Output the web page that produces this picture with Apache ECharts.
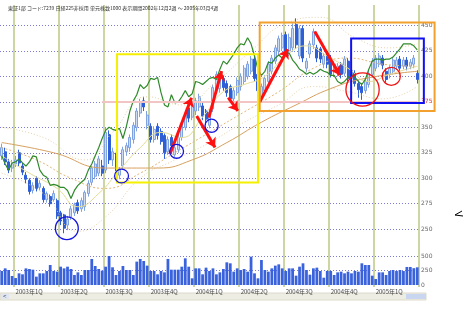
<!DOCTYPE html>
<html>
<head>
<meta charset="utf-8">
<title>7239 週足チャート</title>
<script src="https://cdn.jsdelivr.net/npm/echarts@6/dist/echarts.min.js"></script>
<style>
html, body { margin: 0; padding: 0; background: #fff; }
#chart { width: 466px; height: 312px; }
</style>
</head>
<body>
<div id="chart"></div>
<script>
// 週足 2002年12月2週 ～ 2005年3月4週
var opens  = [322,326,316,310,314,325,312,303,298,288,300,291,290,279,282,279,278,266,264,254,262,266,276,270,272,285,296,302,305,312,308,343,318,322,303,312,326,330,338,350,364,376,352,351,338,351,346,342,326,340,323,328,340,350,369,360,366,370,371,366,352,368,386,388,398,393,390,378,384,390,395,400,405,417,402,380,386,395,405,415,425,428,441,425,428,451,420,447,408,422,431,428,427,412,422,418,405,404,412,403,415,398,403,393,390,386,392,402,408,412,418,405,402,405,410,417,410,416,410,412,403];
var closes = [330,316,308,315,318,315,306,299,287,293,290,295,279,285,275,285,263,258,251,260,270,274,268,278,286,295,310,314,319,305,345,318,326,310,308,328,332,340,352,366,375,370,362,338,348,342,336,325,338,332,330,340,353,364,359,372,376,380,361,358,365,389,402,398,389,384,378,386,396,400,408,412,417,398,386,390,398,412,418,428,437,440,425,438,447,431,447,418,415,432,444,418,417,420,412,402,412,410,402,417,398,406,393,387,384,395,403,415,418,420,411,397,408,416,416,408,416,410,414,418,397];
var lows   = [318,313,305,306,311,312,303,295,284,285,287,288,276,276,272,277,260,254,246,249,259,263,265,267,268,282,293,299,302,302,305,314,312,307,299,309,322,326,334,346,360,366,348,335,335,338,333,319,323,328,320,325,337,347,355,357,362,366,357,352,349,365,383,384,386,380,374,372,381,386,392,397,402,395,380,376,383,392,402,412,421,425,422,420,424,427,417,414,404,418,427,414,413,408,408,399,401,400,398,400,395,394,390,379,377,383,389,399,405,409,407,394,398,402,407,405,407,406,407,408,393];
var highs  = [334,330,319,318,322,328,315,306,300,296,302,298,292,287,284,288,280,268,265,263,273,276,279,281,288,298,312,317,322,318,350,347,330,325,311,331,335,343,355,369,378,380,366,354,351,354,349,344,341,343,333,343,356,367,372,375,379,383,374,368,368,392,405,401,401,396,392,389,399,403,411,415,420,420,405,393,401,415,421,431,440,443,444,442,452,457,450,450,418,435,447,431,429,423,424,421,415,413,414,420,418,409,406,396,393,398,406,418,421,423,421,408,411,419,419,420,419,419,417,421,406];
var volumes = [241,287,259,155,120,201,184,287,276,264,144,201,201,241,345,241,230,316,287,316,276,172,218,172,259,259,449,328,276,247,316,500,305,172,241,328,259,259,172,403,449,414,334,241,241,184,241,218,449,264,264,264,316,460,316,115,287,287,184,299,241,287,184,218,276,391,374,230,287,259,276,230,489,201,115,431,259,230,287,334,356,287,241,287,287,161,316,374,259,178,287,299,241,126,241,241,172,218,230,201,230,201,241,230,374,345,345,161,103,218,218,172,241,259,241,259,241,311,311,290,305];
// 緑の線
var greenLine = [322,314,308,315,316,319,315,312,316,322,321,308,303,301,293,294,293,291,291,288,280,288,293,296,299,308,314,322,330,339,347,350,348,347,349,339,351,366,376,382,392,388,391,398,397,399,384,372,370,382,374,375,380,386,380,383,395,394,392,395,398,399,397,407,415,412,417,422,428,432,431,438,432,420,407,401,405,414,413,418,421,418,422,423,416,412,407,405,402,404,402,404,407,405,404,401,401,395,393,395,399,402,399,395,392,397,407,415,417,417,416,417,417,419,423,427,432,432,432,430,426];
// 移動平均 [週, 値]
var ma13 = [[0,322],[8,305],[16,290],[22,272],[28,285],[34,308],[40,330],[46,345],[52,340],[58,360],[64,385],[70,392],[76,400],[82,420],[88,430],[94,420],[100,408],[106,395],[112,402],[120,410]];
var ma26 = [[0,330],[10,318],[20,300],[30,290],[40,305],[50,325],[60,345],[70,365],[80,385],[90,408],[100,418],[110,412],[120,410]];
var ma52 = [[0,335],[15,325],[30,310],[45,310],[55,318],[65,335],[75,355],[85,372],[95,388],[105,398],[120,405]];
var bandUp = [[0,350],[12,340],[24,318],[32,345],[42,380],[52,372],[62,395],[72,425],[82,452],[92,458],[102,438],[112,428],[120,432]];
var bandDn = [[0,305],[12,285],[22,248],[30,262],[40,300],[50,318],[60,335],[70,355],[80,372],[90,390],[100,385],[110,378],[120,390]];

var quarterIdx = [4,17,30,43,56,69,82,95,108];
var quarterLabels = ['2003年1Q','2003年2Q','2003年3Q','2003年4Q','2004年1Q','2004年2Q','2004年3Q','2004年4Q','2005年1Q'];

// 書き込み（週, 株価）
var boxes = [[33.3,421.7,74.0,295.9],[74.5,452.9,125.0,366.1],[100.9,437.3,121.9,373.9]];
var boxColors = ['#f5f000','#f2a12e','#1010f0'];
var circles = [[18.8,250.9,3.3],[34.6,302.2,2.0],[50.5,326.4,2.0],[60.6,351.5,1.9],[104.2,387.1,4.8],[112.5,400.0,2.6]];
var circleColors = ['#1515e0','#1515e0','#1515e0','#1515e0','#f01010','#f01010'];
var arrows = [[48.6,324.1,54.8,379.1],[56.3,361.2,61.6,330.3],[59.8,359.6,63.5,405.1],[65.4,379.1,68.2,366.1],[74.5,374.9,82.6,426.6],[90.4,444.1,97.6,401.2]];

var weeks = [];
var d0 = new Date(2002, 11, 9);
for (var i = 0; i < opens.length; i++) {
    var d = new Date(d0.getTime() + i * 7 * 86400000);
    weeks.push(d.getFullYear() + '/' + (d.getMonth() + 1) + '/' + d.getDate());
}
var candles = [];
for (i = 0; i < opens.length; i++) {
    candles.push([opens[i], closes[i], lows[i], highs[i]]);
}

function isQuarter(idx) { return quarterIdx.indexOf(idx) >= 0; }

var labelStyle = { fontSize: 6, color: '#666', fontFamily: 'DejaVu Sans' };
var dotted = { color: '#7b7bd8', width: 1, type: [1, 2] };

var chart = echarts.init(document.getElementById('chart'));
var option = {
    animation: false,
    backgroundColor: '#ffffff',
    title: {
        text: '東証1部 コード:7239 日経225非採用 単元株数1000 表示期間2002年12月2週 ～ 2005年03月4週',
        left: 3, top: 1,
        textStyle: { fontSize: 5, fontWeight: 'normal', color: '#333', fontFamily: 'Noto Sans CJK JP' }
    },
    grid: [
        { left: 0, width: 419, top: -1.625, height: 256.25 },
        { left: 0, width: 419, top: 256, height: 29 },
        { left: 0, width: 419, top: 5, height: 282 }
    ],
    xAxis: [
        { type: 'category', gridIndex: 0, data: weeks, show: false },
        { type: 'category', gridIndex: 1, data: weeks, show: false },
        {
            type: 'category', gridIndex: 2, data: weeks,
            axisLine: { show: false }, axisTick: { show: false },
            axisLabel: {
                interval: function (idx) { return isQuarter(idx); },
                formatter: function (v, idx) { var k = quarterIdx.indexOf(idx); return k >= 0 ? quarterLabels[k] : ''; },
                align: 'left', margin: 2, fontSize: 6, color: '#444', fontFamily: 'Noto Sans CJK JP'
            },
            splitLine: {
                show: true,
                interval: function (idx) { return isQuarter(idx); },
                lineStyle: { color: '#cbd6a2', width: 2 }
            }
        },
        { type: 'value', gridIndex: 0, min: -0.5, max: 120.5, show: false }
    ],
    yAxis: [
        {
            type: 'value', gridIndex: 0, position: 'right', min: 225, max: 475, interval: 25,
            axisLine: { show: false }, axisTick: { show: false },
            axisLabel: Object.assign({
                margin: 2,
                formatter: function (v) {
                    if (v === 225 || v === 475) return '';
                    return v === 375 ? '{r|375}' : String(v);
                },
                rich: { r: { color: '#e03030', fontSize: 6 } }
            }, labelStyle),
            splitLine: { show: true, showMinLine: false, showMaxLine: false, lineStyle: dotted }
        },
        {
            type: 'value', gridIndex: 1, position: 'right', min: 0, max: 500, interval: 250,
            axisLine: { show: false }, axisTick: { show: false },
            axisLabel: Object.assign({ margin: 2 }, labelStyle),
            splitLine: { show: true, showMinLine: false, lineStyle: dotted }
        },
        { type: 'value', gridIndex: 2, show: false, min: 0, max: 1 }
    ],
    series: [
        {
            type: 'line', xAxisIndex: 2, yAxisIndex: 2, data: []
        },
        {
            type: 'line', xAxisIndex: 0, yAxisIndex: 0, data: bandUp, smooth: true, symbol: 'none',
            lineStyle: { color: '#e8d2ad', width: 1, type: [1, 2] }
        },
        {
            type: 'line', xAxisIndex: 0, yAxisIndex: 0, data: bandDn, smooth: true, symbol: 'none',
            lineStyle: { color: '#e8d2ad', width: 1, type: [1, 2] }
        },
        {
            type: 'line', xAxisIndex: 0, yAxisIndex: 0, data: ma52, smooth: true, symbol: 'none',
            lineStyle: { color: '#d7a160', width: 1 }
        },
        {
            type: 'line', xAxisIndex: 0, yAxisIndex: 0, data: ma26, smooth: true, symbol: 'none',
            lineStyle: { color: '#e2b779', width: 1, type: [2, 2] }
        },
        {
            type: 'line', xAxisIndex: 0, yAxisIndex: 0, data: ma13, smooth: true, symbol: 'none',
            lineStyle: { color: '#e3dc98', width: 1 }
        },
        {
            type: 'candlestick', xAxisIndex: 0, yAxisIndex: 0, data: candles,
            barWidth: '72%',
            itemStyle: {
                color: '#cddcf5', color0: '#2e5fd6',
                borderColor: '#7fa2e0', borderColor0: '#2e5fd6', borderWidth: 1
            },
            markLine: {
                silent: true, symbol: 'none', label: { show: false },
                lineStyle: { color: '#f3c4c4', width: 2, type: 'solid' },
                data: [[{ xAxis: 29, yAxis: 375 }, { xAxis: 120, yAxis: 375 }]]
            }
        },
        {
            type: 'line', xAxisIndex: 0, yAxisIndex: 0, data: greenLine, symbol: 'none',
            lineStyle: { color: '#2f8a2a', width: 1.2 }
        },
        {
            type: 'bar', xAxisIndex: 1, yAxisIndex: 1, data: volumes,
            barWidth: '80%', itemStyle: { color: '#3a62dc' }
        },
        {
            type: 'custom', xAxisIndex: 3, yAxisIndex: 0, z: 10,
            data: boxes.map(function (b, k) { return [b[0], b[1], b[2], b[3], k]; }),
            renderItem: function (params, api) {
                var p1 = api.coord([api.value(0), api.value(1)]);
                var p2 = api.coord([api.value(2), api.value(3)]);
                return {
                    type: 'rect',
                    shape: { x: p1[0], y: p1[1], width: p2[0] - p1[0], height: p2[1] - p1[1] },
                    style: { fill: 'rgba(0,0,0,0)', stroke: boxColors[api.value(4)], lineWidth: 2 }
                };
            }
        },
        {
            type: 'custom', xAxisIndex: 3, yAxisIndex: 0, z: 11,
            data: circles.map(function (c, k) { return [c[0], c[1], c[2], k]; }),
            renderItem: function (params, api) {
                var p = api.coord([api.value(0), api.value(1)]);
                var r = api.size([api.value(2), 0])[0];
                return {
                    type: 'circle',
                    shape: { cx: p[0], cy: p[1], r: r },
                    style: { fill: 'rgba(0,0,0,0)', stroke: circleColors[api.value(3)], lineWidth: 1.3 }
                };
            },
            markLine: {
                silent: true, symbol: ['none', 'arrow'], symbolSize: 9,
                label: { show: false },
                lineStyle: { color: '#ff1010', width: 3, type: 'solid' },
                data: arrows.map(function (a) { return [{ coord: [a[0], a[1]] }, { coord: [a[2], a[3]] }]; })
            }
        }
    ],
    graphic: [
        { type: 'rect', shape: { x: 0, y: 293, width: 426, height: 7 }, style: { fill: '#eeede3', stroke: '#dcdacb' } },
        { type: 'rect', shape: { x: 1, y: 294, width: 8, height: 5 }, style: { fill: '#dfe6f2' } },
        { type: 'text', x: 3, y: 293, style: { text: '<', fontSize: 6, fill: '#335' } },
        { type: 'rect', shape: { x: 406, y: 294, width: 20, height: 5 }, style: { fill: '#c9d6ef' } },
        { type: 'polyline', shape: { points: [[462, 211], [455, 215], [463, 216]] }, style: { stroke: '#000', fill: null, lineWidth: 1 } }
    ]
};
chart.setOption(option);
</script>
</body>
</html>
